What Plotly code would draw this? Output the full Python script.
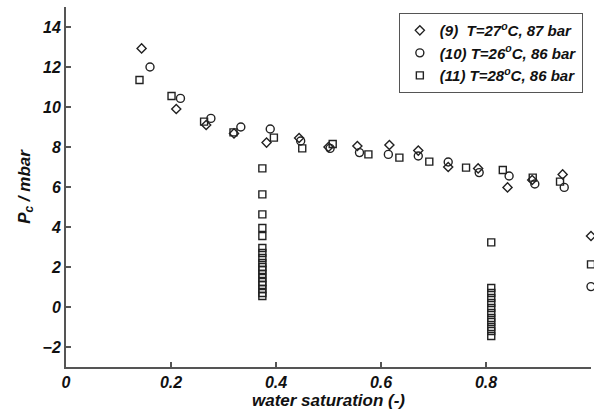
import plotly.graph_objects as go

# Run (9): T=27 C, 87 bar
sw_run9 = [0.144, 0.210, 0.267, 0.320, 0.382, 0.444, 0.500, 0.555, 0.616,
           0.671, 0.728, 0.785, 0.841, 0.888, 0.946, 1.000]
pc_run9 = [12.93, 9.90, 9.10, 8.68, 8.22, 8.45, 8.00, 8.05, 8.10,
           7.82, 7.00, 6.93, 5.98, 6.35, 6.63, 3.55]

# Run (10): T=26 C, 86 bar
sw_run10 = [0.160, 0.218, 0.276, 0.333, 0.389, 0.447, 0.503, 0.559, 0.614,
            0.671, 0.728, 0.787, 0.844, 0.893, 0.949, 1.000]
pc_run10 = [12.00, 10.43, 9.43, 9.00, 8.90, 8.30, 7.93, 7.72, 7.63,
            7.55, 7.25, 6.72, 6.55, 6.15, 5.98, 1.02]

# Run (11): T=28 C, 86 bar -- main drainage curve
sw_run11 = [0.140, 0.201, 0.263, 0.319, 0.396, 0.450, 0.508, 0.576, 0.635,
            0.692, 0.762, 0.832, 0.889, 0.941, 1.000]
pc_run11 = [11.35, 10.55, 9.27, 8.73, 8.47, 7.93, 8.15, 7.63, 7.47,
            7.27, 6.97, 6.85, 6.47, 6.27, 2.13]
# Run (11): relaxation readings at fixed saturation
sw_relax_a = 0.374
pc_relax_a = [6.93, 5.63, 4.63, 3.95, 3.55, 2.95, 2.70, 2.45, 2.20, 2.00,
              1.85, 1.65, 1.45, 1.25, 1.10, 0.90, 0.70, 0.55]
sw_relax_b = 0.810
pc_relax_b = [3.23, 0.95, 0.70, 0.45, 0.20, -0.05, -0.30, -0.55, -0.75,
              -1.00, -1.20, -1.45]

x_ticks = [0, 0.2, 0.4, 0.6, 0.8, 1]
x_tick_text = ["0", "0.2", "0.4", "0.6", "0.8", "1"]
y_ticks = [-2, 0, 2, 4, 6, 8, 10, 12, 14]

names = ["(9)  T=27<sup>o</sup>C, 87 bar",
         "(10) T=26<sup>o</sup>C, 86 bar",
         "(11) T=28<sup>o</sup>C, 86 bar"]

ink = "#222222"
axis_grey = "#555555"
font_bi = dict(family="Liberation Sans, Arial, sans-serif", color="#111111",
               weight="bold", style="italic")

sw11_all = sw_run11 + [sw_relax_a] * len(pc_relax_a) + [sw_relax_b] * len(pc_relax_b)
pc11_all = pc_run11 + pc_relax_a + pc_relax_b

fig = go.Figure()
fig.add_trace(go.Scatter(x=sw_run9, y=pc_run9, mode="markers", name=names[0],
                         cliponaxis=False,
                         marker=dict(symbol="diamond-open", size=7,
                                     line=dict(color=ink, width=1.4), color=ink)))
fig.add_trace(go.Scatter(x=sw_run10, y=pc_run10, mode="markers", name=names[1],
                         cliponaxis=False,
                         marker=dict(symbol="circle-open", size=8,
                                     line=dict(color=ink, width=1.4), color=ink)))
fig.add_trace(go.Scatter(x=sw11_all, y=pc11_all, mode="markers", name=names[2],
                         cliponaxis=False,
                         marker=dict(symbol="square-open", size=7,
                                     line=dict(color=ink, width=1.4), color=ink)))

fig.update_layout(
    width=594, height=412,
    margin=dict(l=66, r=3, t=7, b=45),
    paper_bgcolor="white", plot_bgcolor="white",
    font=dict(**font_bi, size=16),
    showlegend=True,
    legend=dict(x=0.634, y=0.983, xanchor="left", yanchor="top",
                bordercolor=axis_grey, borderwidth=1, bgcolor="white",
                font=dict(**font_bi, size=15), itemwidth=30),
)
fig.update_xaxes(range=[0, 1], tickvals=x_ticks, ticktext=x_tick_text,
                 showgrid=False, zeroline=False, showline=True,
                 linecolor=axis_grey, linewidth=2, ticks="inside", ticklen=5,
                 tickcolor=axis_grey, tickwidth=1.5,
                 tickfont=dict(**font_bi, size=16),
                 title=dict(text="water saturation (-)", standoff=2,
                            font=dict(**font_bi, size=17)))
fig.update_yaxes(range=[-3, 15], tickvals=y_ticks,
                 showgrid=False, zeroline=False, showline=True,
                 linecolor=axis_grey, linewidth=2, ticks="inside", ticklen=5,
                 tickcolor=axis_grey, tickwidth=1.5,
                 tickfont=dict(**font_bi, size=16),
                 title=dict(text="P<sub>c</sub> / mbar", standoff=8,
                            font=dict(**font_bi, size=17)))

fig.write_html("out.html")
